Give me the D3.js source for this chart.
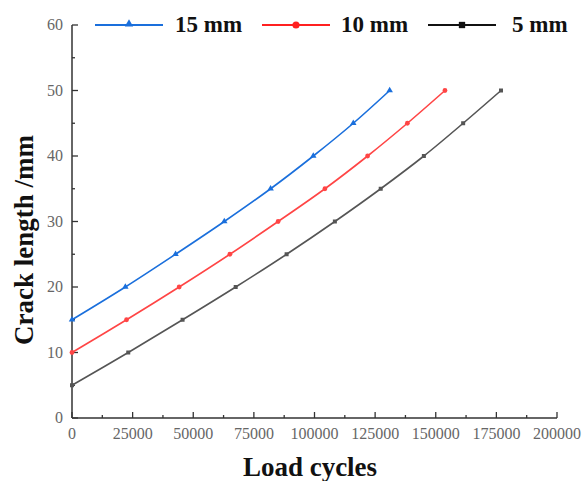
<!DOCTYPE html>
<html><head><meta charset="utf-8">
<script src="https://cdn.jsdelivr.net/npm/d3@7"></script>
<style>body{margin:0;background:#fff}svg{display:block}</style>
</head><body><svg id="c" width="586" height="481"></svg>
<script>
const crackLength = [15,20,25,30,35,40,45,50];
const crack10 = [10,15,20,25,30,35,40,45,50];
const crack5 = [5,10,15,20,25,30,35,40,45,50];
const cycles15 = [0,22000,42700,62800,81900,99500,116000,131000];
const cycles10 = [0,22500,44200,65100,85000,104300,121900,138300,153800];
const cycles5 = [0,23200,45600,67500,88500,108400,127300,145100,161300,176900];
const xTicks = [0,25000,50000,75000,100000,125000,150000,175000,200000];
const yTicks = [0,10,20,30,40,50,60];
const seriesNames = ["15 mm","10 mm","5 mm"];
const seriesColors = ["#1a6fdc","#ff4545","#555555"];
const legendColors = ["#1a6fdc","#ff2020","#111111"];

const series = [
  {name: seriesNames[0], xs: cycles15, ys: crackLength, color: seriesColors[0], lc: legendColors[0], sym: d3.symbolTriangle},
  {name: seriesNames[1], xs: cycles10, ys: crack10, color: seriesColors[1], lc: legendColors[1], sym: d3.symbolCircle},
  {name: seriesNames[2], xs: cycles5, ys: crack5, color: seriesColors[2], lc: legendColors[2], sym: d3.symbolSquare}
];

const svg = d3.select("#c");
const x = d3.scaleLinear().domain([0,200000]).range([72,557]);
const y = d3.scaleLinear().domain([0,60]).range([418,25]);
const serif = "'Liberation Serif','Times New Roman',serif";
const axisColor = "#333";

// x axis
const gx = svg.append("g");
gx.append("line").attr("x1",x(0)).attr("x2",x(200000)).attr("y1",y(0)).attr("y2",y(0)).attr("stroke",axisColor).attr("stroke-width",1.5);
d3.range(0,200001,12500).forEach(v=>{
  const major = v%25000===0;
  gx.append("line").attr("x1",x(v)).attr("x2",x(v)).attr("y1",y(0)).attr("y2",y(0)-(major?6:3)).attr("stroke",axisColor).attr("stroke-width",1.3);
});
gx.selectAll("text.xt").data(xTicks).join("text").attr("class","xt")
  .attr("x",d=>x(d)).attr("y",y(0)+21).attr("text-anchor","middle")
  .attr("font-family",serif).attr("font-size",16).attr("fill","#666").text(d=>d);

// y axis
const gy = svg.append("g");
gy.append("line").attr("x1",x(0)).attr("x2",x(0)).attr("y1",y(0)).attr("y2",y(60)).attr("stroke",axisColor).attr("stroke-width",1.5);
d3.range(0,61,5).forEach(v=>{
  const major = v%10===0;
  gy.append("line").attr("x1",x(0)).attr("x2",x(0)+(major?6:3)).attr("y1",y(v)).attr("y2",y(v)).attr("stroke",axisColor).attr("stroke-width",1.3);
});
gy.selectAll("text.yt").data(yTicks).join("text").attr("class","yt")
  .attr("x",x(0)-9).attr("y",d=>y(d)+5).attr("text-anchor","end")
  .attr("font-family",serif).attr("font-size",16).attr("fill","#666").text(d=>d);

// titles
svg.append("text").attr("x",310).attr("y",476).attr("text-anchor","middle")
  .attr("font-family",serif).attr("font-weight","bold").attr("font-size",27).attr("fill","#111").text("Load cycles");
svg.append("text").attr("transform","translate(33,240) rotate(-90)").attr("text-anchor","middle")
  .attr("font-family",serif).attr("font-weight","bold").attr("font-size",27).attr("fill","#111").text("Crack length /mm");

// series
const line = d3.line().curve(d3.curveCatmullRom.alpha(0.5)).x(d=>x(d[0])).y(d=>y(d[1]));
series.forEach(s=>{
  const pts = s.xs.map((v,i)=>[v,s.ys[i]]);
  svg.append("path").attr("d",line(pts)).attr("fill","none").attr("stroke",s.color).attr("stroke-width",1.6);
  svg.selectAll(null).data(pts).join("path")
    .attr("transform",d=>`translate(${x(d[0])},${y(d[1])})`)
    .attr("d",d3.symbol().type(s.sym).size(s.sym===d3.symbolSquare?16:18)).attr("fill",s.color);
});

// legend
const legendX = [95,262,428];
const textX = [175,341,512];
series.forEach((s,i)=>{
  const g = svg.append("g");
  g.append("line").attr("x1",legendX[i]).attr("x2",legendX[i]+68).attr("y1",25).attr("y2",25).attr("stroke",s.lc).attr("stroke-width",1.8);
  g.append("path").attr("transform",`translate(${legendX[i]+34},${s.sym===d3.symbolTriangle?24:25})`)
    .attr("d",d3.symbol().type(s.sym).size(s.sym===d3.symbolTriangle?30:40)).attr("fill",s.lc);
  g.append("text").attr("x",textX[i]).attr("y",32).attr("font-family",serif).attr("font-weight","bold")
    .attr("font-size",23).attr("fill","#111").text(s.name);
});
</script></body></html>
